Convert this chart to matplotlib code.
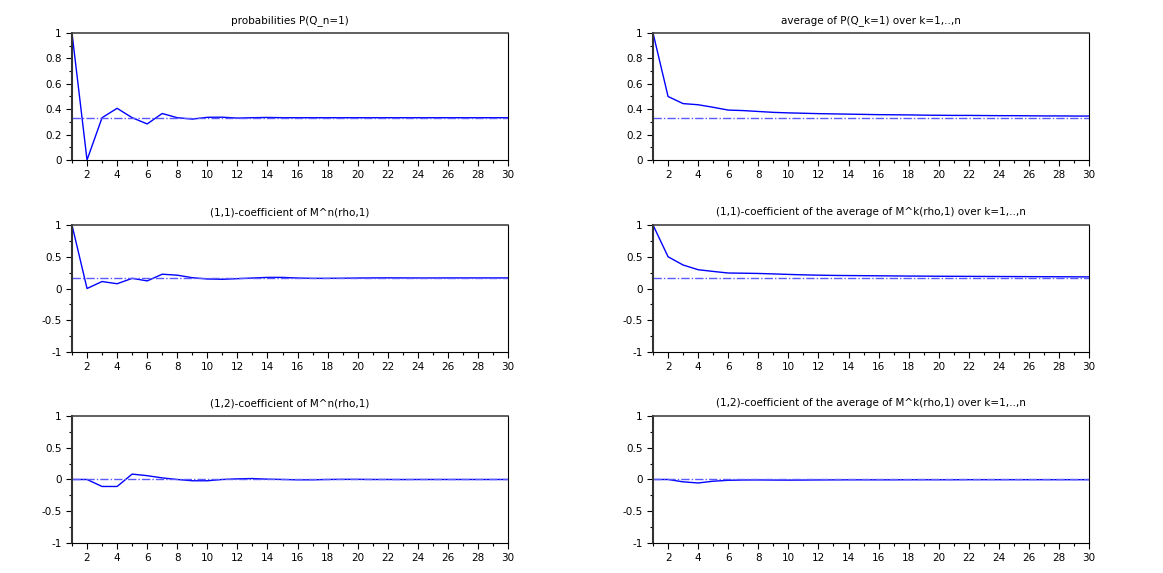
import numpy as np
import matplotlib
matplotlib.use("Agg")
import matplotlib.pyplot as plt
from matplotlib.ticker import MultipleLocator

n = np.arange(1, 31)

# values
p_q1 = [1.0, 0.0, 0.333, 0.407, 0.333, 0.284, 0.366, 0.333, 0.322, 0.336,
        0.337, 0.330, 0.333, 0.335, 0.333, 0.333, 0.333, 0.333, 0.333, 0.333,
        0.333, 0.333, 0.333, 0.333, 0.333, 0.333, 0.333, 0.333, 0.333, 0.333]
avg_p_q1 = [1.0, 0.5, 0.444, 0.435, 0.415, 0.393, 0.389, 0.382, 0.375, 0.371,
            0.368, 0.365, 0.363, 0.361, 0.359, 0.357, 0.356, 0.355, 0.353, 0.352,
            0.351, 0.351, 0.350, 0.349, 0.349, 0.348, 0.347, 0.347, 0.346, 0.346]
coef11 = [1.0, 0.0, 0.11, 0.075, 0.16, 0.12, 0.225, 0.21, 0.17, 0.15,
          0.145, 0.155, 0.165, 0.175, 0.175, 0.165, 0.16, 0.16, 0.162, 0.165,
          0.167, 0.168, 0.167, 0.166, 0.166, 0.167, 0.167, 0.167, 0.167, 0.167]
avg_coef11 = [1.0, 0.5, 0.37, 0.296, 0.269, 0.244, 0.241, 0.237, 0.230, 0.222,
              0.215, 0.210, 0.206, 0.204, 0.202, 0.200, 0.198, 0.196, 0.195, 0.193,
              0.192, 0.191, 0.190, 0.189, 0.188, 0.187, 0.186, 0.185, 0.184, 0.183]
coef12 = [0.0, 0.0, -0.11, -0.11, 0.085, 0.06, 0.025, 0.0, -0.02, -0.02,
          0.0, 0.01, 0.015, 0.005, 0.0, -0.005, -0.005, 0.0, 0.002, 0.002,
          0.0, 0.0, -0.001, 0.0, 0.0, 0.0, 0.0, 0.0, 0.0, 0.0]
avg_coef12 = [0.0, 0.0, -0.037, -0.055, -0.027, -0.013, -0.008, -0.007, -0.009, -0.010,
              -0.009, -0.007, -0.006, -0.005, -0.005, -0.005, -0.005, -0.004, -0.004, -0.004,
              -0.004, -0.003, -0.003, -0.003, -0.003, -0.003, -0.003, -0.003, -0.003, -0.003]

limits = [1/3, 1/3, 1/6, 1/6, 0.0, 0.0]
titles = ["probabilities P(Q_n=1)",
          "average of P(Q_k=1) over k=1,..,n",
          "(1,1)-coefficient of M^n(rho,1)",
          "(1,1)-coefficient of the average of M^k(rho,1) over k=1,..,n",
          "(1,2)-coefficient of M^n(rho,1)",
          "(1,2)-coefficient of the average of M^k(rho,1) over k=1,..,n"]
series = [p_q1, avg_p_q1, coef11, avg_coef11, coef12, avg_coef12]

fig = plt.figure(figsize=(11.63, 5.73), dpi=100)
lefts = [0.0619, 0.5615]
bottoms = [0.7208, 0.3857, 0.0524]
w, h = 0.375, 0.2216

for i in range(6):
    row, col = divmod(i, 2)
    ax = fig.add_axes([lefts[col], bottoms[row], w, h])
    ax.plot(n, series[i], color="blue", lw=1)
    ax.axhline(limits[i], color="#5a5aff", lw=1, dashes=(6, 1.5, 1, 1.5))
    ax.set_xlim(1, 30)
    if row == 0:
        ax.set_ylim(0, 1)
        ax.set_yticks([0, 0.2, 0.4, 0.6, 0.8, 1])
        ax.set_yticklabels(["0", "0.2", "0.4", "0.6", "0.8", "1"])
        ax.yaxis.set_minor_locator(MultipleLocator(0.1))
    else:
        ax.set_ylim(-1, 1)
        ax.set_yticks([-1, -0.5, 0, 0.5, 1])
        ax.set_yticklabels(["-1", "-0.5", "0", "0.5", "1"])
        ax.yaxis.set_minor_locator(MultipleLocator(0.25))
    ax.set_xticks(range(2, 31, 2))
    ax.xaxis.set_minor_locator(MultipleLocator(1))
    ax.tick_params(which="both", direction="out", labelsize=7.5, width=0.8)
    ax.tick_params(which="major", length=4)
    ax.tick_params(which="minor", length=2)
    for s in ax.spines.values():
        s.set_linewidth(0.8)
    ax.spines["left"].set_linewidth(1.5)
    ax.spines["left"].set_color("#333333")
    ax.spines["top"].set_linewidth(1.2)
    ax.spines["top"].set_color("#444444")
    ax.set_title(titles[i], fontsize=7.5, pad=7)

fig.savefig("out.png", dpi=100)
